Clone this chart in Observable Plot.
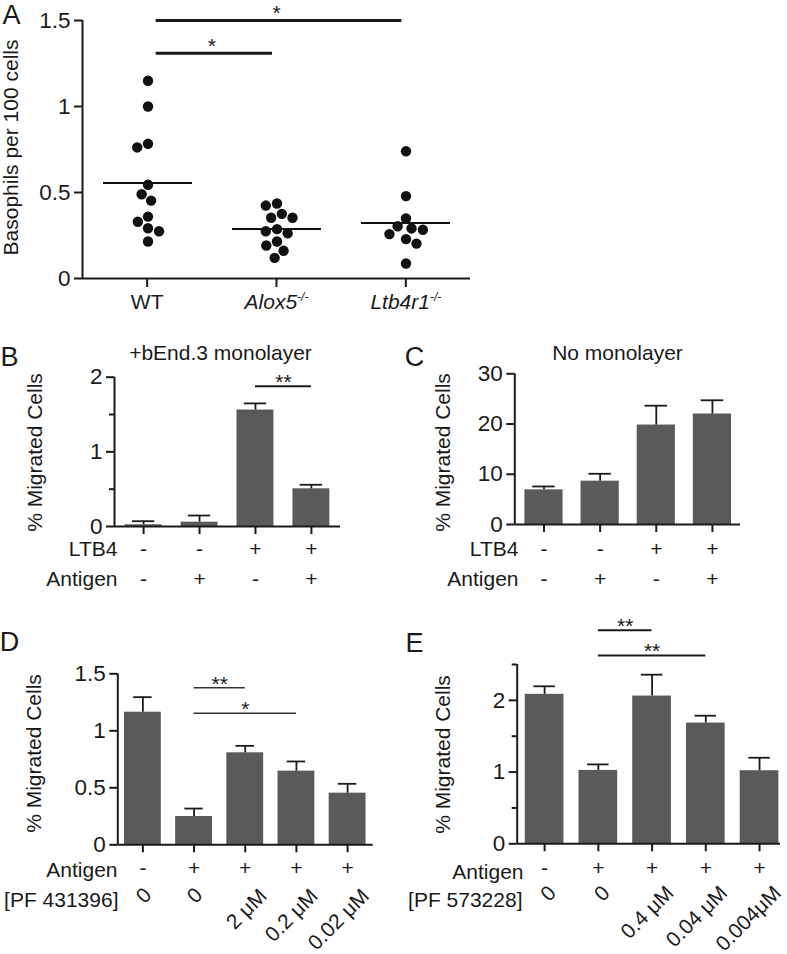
<!DOCTYPE html>
<html>
<head>
<meta charset="utf-8">
<script src="https://cdn.jsdelivr.net/npm/d3@7"></script>
<script src="https://cdn.jsdelivr.net/npm/@observablehq/plot@0.6"></script>
<style>
html,body{margin:0;padding:0;background:#fff;}
#fig{position:relative;width:787px;height:954px;overflow:hidden;background:#fff;}
#fig svg{position:absolute;left:0;top:0;}
</style>
</head>
<body>
<div id="fig"></div>
<script>
// ---------------- Panel A data ----------------
const groupsA = ["WT", "Alox5", "Ltb4r1"];
const knockoutA = ["Alox5", "Ltb4r1"];
const valuesWT = [1.15, 1.0, 0.783, 0.762, 0.545, 0.49, 0.453, 0.36, 0.33, 0.292, 0.275, 0.215];
const valuesAlox5 = [0.436, 0.424, 0.376, 0.353, 0.353, 0.287, 0.275, 0.263, 0.215, 0.192, 0.161, 0.12];
const valuesLtb4r1 = [0.74, 0.479, 0.349, 0.304, 0.291, 0.283, 0.258, 0.229, 0.203, 0.087];
const yTicksA = [0, 0.5, 1, 1.5];
const yTitleA = "Basophils per 100 cells";
const sigA = [
  {from: "WT", to: "Alox5", y: 1.31, label: "*"},
  {from: "WT", to: "Ltb4r1", y: 1.5, label: "*"}
];

// ---------------- Panel B data ----------------
const titleB = "+bEnd.3 monolayer";
const ltb4B = ["-", "-", "+", "+"];
const antigenB = ["-", "+", "-", "+"];
const meanB = [0.023, 0.058, 1.56, 0.505];
const semB = [0.048, 0.089, 0.089, 0.054];
const yTicksB = [0, 1, 2];
const yMinorB = [0.5, 1.5];
const sigB = [{from: 2, to: 3, y: 1.88, label: "**"}];

// ---------------- Panel C data ----------------
const titleC = "No monolayer";
const ltb4C = ["-", "-", "+", "+"];
const antigenC = ["-", "+", "-", "+"];
const meanC = [6.9, 8.63, 19.8, 22.0];
const semC = [0.67, 1.47, 3.85, 2.73];
const yTicksC = [0, 10, 20, 30];

// ---------------- Panel D data ----------------
const antigenD = ["-", "+", "+", "+", "+"];
const doseD = ["0", "0", "2 μM", "0.2 μM", "0.02 μM"];
const drugD = "[PF 431396]";
const meanD = [1.163, 0.248, 0.807, 0.646, 0.453];
const semD = [0.132, 0.07, 0.061, 0.085, 0.082];
const yTicksD = [0, 0.5, 1, 1.5];
const sigD = [
  {from: 1, to: 2, y: 1.377, label: "**"},
  {from: 1, to: 3, y: 1.154, label: "*"}
];

// ---------------- Panel E data ----------------
const antigenE = ["-", "+", "+", "+", "+"];
const doseE = ["0", "0", "0.4 μM", "0.04 μM", "0.004μM"];
const drugE = "[PF 573228]";
const meanE = [2.084, 1.023, 2.06, 1.683, 1.019];
const semE = [0.112, 0.084, 0.298, 0.103, 0.181];
const yTicksE = [0, 1, 2];
const yMinorE = [0.5, 1.5, 2.5];
const sigE = [
  {from: 1, to: 2, y: 2.977, label: "**"},
  {from: 1, to: 3, y: 2.624, label: "**"}
];

const yTitleMig = "% Migrated Cells";

// ---------------- rendering ----------------
const W = 787, H = 954;
const INK = "#1a1a1a", BAR = "#5a5a5a";
const FONT = "'Liberation Sans', Arial, Helvetica, sans-serif";
const TICK_FONT = 22.5;
const baseStyle = {fontFamily: FONT, fontSize: "21px", color: INK, background: "transparent", overflow: "visible"};
const fig = document.getElementById("fig");
const NS = "http://www.w3.org/2000/svg";

function margins(f) {
  return {marginLeft: f.left, marginRight: W - f.right, marginTop: f.top, marginBottom: H - f.bottom};
}
// text centred on a page position, expressed relative to the frame's top-left corner
function pageText(f, txt, at, opts = {}) {
  return Plot.text([txt], {frameAnchor: "top-left", textAnchor: "middle", lineAnchor: "middle",
    dx: at[0] - f.left, dy: at[1] - f.top, ...opts});
}

// ---- Panel A: dots (faceted beeswarm) ----
const frameA = {left: 82, right: 470, top: 20, bottom: 278};
const dataA = [
  ...valuesWT.map(v => ({group: "WT", value: v})),
  ...valuesAlox5.map(v => ({group: "Alox5", value: v})),
  ...valuesLtb4r1.map(v => ({group: "Ltb4r1", value: v}))
];
fig.append(Plot.plot({
  width: W, height: H, ...margins(frameA), style: baseStyle,
  fx: {domain: groupsA, padding: 0, axis: null},
  y: {domain: [0, 1.5], axis: null},
  marks: [
    Plot.dot(dataA, Plot.dodgeX({anchor: "middle", padding: 1}, {fx: "group", y: "value", r: 5.2, fill: "#111"})),
    Plot.ruleY(dataA, Plot.groupZ({y: "mean"}, {fx: "group", y: "value", insetLeft: 20, insetRight: 20, stroke: "#111", strokeWidth: 2}))
  ]
}));

// ---- Panel A: axes + annotations ----
const axesA = Plot.plot({
  width: W, height: H, ...margins(frameA), style: baseStyle,
  x: {type: "linear", domain: [-0.5, 2.5], axis: null},
  y: {domain: [0, 1.5], axis: null},
  marks: [
    Plot.ruleX([-0.5], {stroke: INK, strokeWidth: 2}),
    Plot.ruleY([0], {stroke: INK, strokeWidth: 2}),
    Plot.axisY({ticks: yTicksA, tickFormat: d => String(d), tickSize: 8, tickPadding: 4, fontSize: TICK_FONT, stroke: INK, strokeWidth: 2, label: null}),
    Plot.axisX({ticks: d3.range(groupsA.length), tickFormat: i => groupsA[i], tickSize: 9, tickPadding: 7, stroke: INK, strokeWidth: 2, label: null}),
    Plot.ruleY(sigA, {x1: d => groupsA.indexOf(d.from), x2: d => groupsA.indexOf(d.to), y: "y", insetLeft: 9, insetRight: 4, stroke: INK, strokeWidth: 3}),
    Plot.text(sigA, {x: d => (groupsA.indexOf(d.from) + groupsA.indexOf(d.to)) / 2, y: "y", text: "label", dy: -7}),
    pageText(frameA, yTitleA, [11, 147], {rotate: -90}),
    pageText(frameA, "A", [11, 15], {fontSize: 27})
  ]
});
axesA.querySelectorAll("text").forEach(t => {
  const s = t.textContent;
  if (knockoutA.includes(s)) {
    t.textContent = "";
    const a = document.createElementNS(NS, "tspan");
    a.setAttribute("font-style", "italic");
    a.textContent = s;
    const b = document.createElementNS(NS, "tspan");
    b.setAttribute("font-style", "italic");
    b.setAttribute("font-size", "12");
    b.setAttribute("dy", "-8");
    b.textContent = "-/-";
    t.append(a, b);
  }
});
fig.append(axesA);

// ---- Bar panels ----
function barPanel(p) {
  const f = p.frame;
  const idx = d3.range(p.means.length);
  const top = i => p.means[i] + p.sems[i];
  const marks = [
    Plot.rectY(idx, {x1: i => i - p.barHalf, x2: i => i + p.barHalf, y1: 0, y2: i => p.means[i], fill: BAR}),
    Plot.ruleX(idx, {x: i => i, y1: i => p.means[i], y2: top, stroke: INK, strokeWidth: 1.8}),
    Plot.ruleY(idx, {x1: i => i - p.capHalf, x2: i => i + p.capHalf, y: top, stroke: INK, strokeWidth: 1.8}),
    Plot.ruleX([p.xDomain[0]], {stroke: INK, strokeWidth: 2}),
    Plot.ruleY([0], {stroke: INK, strokeWidth: 2}),
    Plot.axisY({ticks: p.yTicks, tickFormat: d => String(d), tickSize: 8, tickPadding: 4, fontSize: TICK_FONT, stroke: INK, strokeWidth: 2, label: null}),
    Plot.axisX({ticks: idx, tickFormat: () => "", tickSize: 8, stroke: INK, strokeWidth: 2, label: null}),
    pageText(f, p.yTitle, p.yTitleAt, {rotate: -90}),
    pageText(f, p.letter, p.letterAt, {fontSize: 27})
  ];
  if (p.minor) marks.push(Plot.axisY({ticks: p.minor, tickFormat: () => "", tickSize: 5, stroke: INK, strokeWidth: 2, label: null}));
  if (p.title) marks.push(pageText(f, p.title, p.titleAt));
  for (const r of p.rows) {
    marks.push(Plot.text(idx, {x: i => i, text: i => r.signs[i], frameAnchor: "bottom", lineAnchor: "middle", dy: r.signY - f.bottom}));
    marks.push(pageText(f, r.title, [r.titleRight, r.titleY], {textAnchor: "end"}));
  }
  if (p.dose) {
    const d = p.dose;
    const zero = idx.filter(i => d.labels[i] === "0");
    const conc = idx.filter(i => d.labels[i] !== "0");
    marks.push(Plot.text(zero, {x: i => i, text: i => d.labels[i], frameAnchor: "bottom", rotate: -45, textAnchor: "end", lineAnchor: "middle", dx: d.zeroAt[0], dy: d.zeroAt[1] - f.bottom}));
    marks.push(Plot.text(conc, {x: i => i, text: i => d.labels[i], frameAnchor: "bottom", rotate: -45, textAnchor: "end", lineAnchor: "middle", dx: d.concAt[0], dy: d.concAt[1] - f.bottom}));
    marks.push(pageText(f, d.title, [d.titleRight, d.titleY], {textAnchor: "end"}));
  }
  if (p.sig) {
    marks.push(Plot.ruleY(p.sig, {x1: "from", x2: "to", y: "y", stroke: p.sigStroke, strokeWidth: p.sigWidth}));
    marks.push(Plot.text(p.sig, {x: s => (s.from + s.to) / 2, y: "y", text: "label", dy: -4}));
  }
  fig.append(Plot.plot({
    width: W, height: H, ...margins(f), style: baseStyle,
    x: {type: "linear", domain: p.xDomain, axis: null},
    y: {domain: p.yDomain, axis: null},
    marks
  }));
}

barPanel({
  frame: {left: 114, right: 340, top: 376.7, bottom: 526},
  xDomain: [-0.52, 3.52], yDomain: [0, 2], yTicks: yTicksB, minor: yMinorB,
  means: meanB, sems: semB, barHalf: 0.33, capHalf: 0.2,
  yTitle: yTitleMig, yTitleAt: [35, 452], letter: "B", letterAt: [9, 357],
  title: titleB, titleAt: [220, 353],
  rows: [
    {title: "LTB4", signs: ltb4B, signY: 549, titleRight: 117, titleY: 549},
    {title: "Antigen", signs: antigenB, signY: 579, titleRight: 117, titleY: 579}
  ],
  sig: sigB, sigStroke: INK, sigWidth: 2
});

barPanel({
  frame: {left: 514.3, right: 740, top: 373.3, bottom: 524},
  xDomain: [-0.52, 3.5], yDomain: [0, 30], yTicks: yTicksC,
  means: meanC, sems: semC, barHalf: 0.34, capHalf: 0.2,
  yTitle: yTitleMig, yTitleAt: [442.5, 452], letter: "C", letterAt: [414, 357],
  title: titleC, titleAt: [617, 353],
  rows: [
    {title: "LTB4", signs: ltb4C, signY: 549, titleRight: 518, titleY: 549},
    {title: "Antigen", signs: antigenC, signY: 579, titleRight: 518, titleY: 579}
  ]
});

barPanel({
  frame: {left: 117.3, right: 372.7, top: 673.3, bottom: 844.3},
  xDomain: [-0.49, 4.5], yDomain: [0, 1.5], yTicks: yTicksD,
  means: meanD, sems: semD, barHalf: 0.36, capHalf: 0.18,
  yTitle: yTitleMig, yTitleAt: [34, 753], letter: "D", letterAt: [9, 642],
  rows: [
    {title: "Antigen", signs: antigenD, signY: 868, titleRight: 117, titleY: 870}
  ],
  dose: {title: drugD, labels: doseD, titleRight: 118, titleY: 900, zeroAt: [5, 891], concAt: [18, 892]},
  sig: sigD, sigStroke: "#333", sigWidth: 1.5
});

barPanel({
  frame: {left: 516.7, right: 780, top: 664, bottom: 843.3},
  xDomain: [-0.51, 4.39], yDomain: [0, 2.5], yTicks: yTicksE, minor: yMinorE,
  means: meanE, sems: semE, barHalf: 0.36, capHalf: 0.2,
  yTitle: yTitleMig, yTitleAt: [442.5, 754], letter: "E", letterAt: [414, 643],
  rows: [
    {title: "Antigen", signs: antigenE, signY: 868, titleRight: 523, titleY: 872}
  ],
  dose: {title: drugE, labels: doseE, titleRight: 522, titleY: 900, zeroAt: [8, 889], concAt: [18, 889]},
  sig: sigE, sigStroke: INK, sigWidth: 2
});
</script>
</body>
</html>
